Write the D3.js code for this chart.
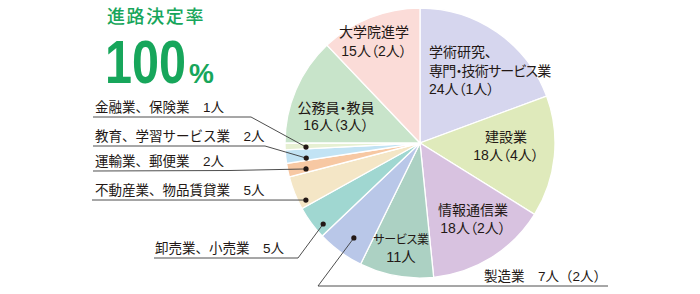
<!DOCTYPE html>
<html><head><meta charset="utf-8">
<script src="https://cdn.jsdelivr.net/npm/d3@7"></script>
<style>
html,body{margin:0;padding:0;background:#fff;}
svg{display:block;font-family:"Liberation Sans","Noto Sans CJK JP",sans-serif;}
.jp{font-feature-settings:"palt";}
</style></head>
<body>
<script>
// data (clockwise from top)
const categories = ["学術研究、専門・技術サービス業","建設業","情報通信業","サービス業","製造業","卸売業、小売業","不動産業、物品賃貸業","運輸業、郵便業","教育、学習サービス業","金融業、保険業","公務員・教員","大学院進学"];
const values = [24,18,18,11,7,5,5,2,2,1,16,15];
const female = [1,4,2,null,2,null,null,null,null,null,3,2];
const colors = ["#d6d6ee","#dfeabb","#d8c2e0","#acd1c3","#b9c7e8","#a0d7d1","#f4e6c6","#f7c8a3","#c2e3f4","#e6f0d2","#c8e4ca","#fbdcd8"];
const title = "進路決定率";
const rateText = "100";

const W=700,H=294, cx=420, cy=143, R=135;
const svg=d3.select("body").append("svg").attr("width",W).attr("height",H);
const green="#17a65b";

svg.append("text").attr("x",107).attr("y",23).attr("fill",green).attr("font-size",18).attr("font-weight",500)
  .attr("letter-spacing",1.6).text(title);

function fitText(str,x,y,size,targetW){
  const t=svg.append("text").attr("fill",green)
    .attr("font-family","'Liberation Sans Narrow','Liberation Sans',sans-serif")
    .attr("font-weight",700).attr("font-size",size).text(str);
  const w=t.node().getBBox().width;
  t.attr("transform",`translate(${x},${y}) scale(${targetW/w},1)`);
}
fitText(rateText,105,83,62,81);
fitText("%",189,83,28,25);

const pie=d3.pie().sort(null).value(d=>d)(values);
const arc=d3.arc().innerRadius(0).outerRadius(R);
const g=svg.append("g").attr("transform",`translate(${cx},${cy})`);
g.selectAll("path").data(pie).join("path").attr("d",arc)
  .attr("fill",(d,i)=>colors[i]).attr("stroke","#fff").attr("stroke-width",1.3);

function countText(i){ return values[i]+"人"+(female[i]!=null?"（"+female[i]+"人）":""); }

// inside labels: [index, lines, x, baselines, anchor, fontsizes, letterspacing]
const inside=[
  [0,["学術研究、","専門・技術サービス業",countText(0)],429,[57,76,94],"start",[14,14,14],[0,-0.8,0]],
  [1,["建設業",countText(1)],506,[142,160],"middle",[14,14],[0,0]],
  [2,["情報通信業",countText(2)],473,[215,233],"middle",[14,14],[0,0]],
  [3,["サービス業",countText(3)],401,[244,262],"middle",[12,14.5],[-0.3,0]],
  [10,["公務員・教員",countText(10)],336,[113,130],"middle",[14,14],[0,0]],
  [11,["大学院進学",countText(11)],374,[37,56],"middle",[14,14],[0,0]]
];
inside.forEach(([i,lines,x,ys,anc,fs,ls])=>{
  lines.forEach((s,k)=>{
    svg.append("text").attr("class","jp").attr("text-anchor",anc).attr("fill","#231815")
      .attr("x",x).attr("y",ys[k]).attr("font-size",fs[k]).attr("letter-spacing",ls[k]).text(s);
  });
});

// outside labels with leaders: [index, textX, baseline, path points before dot, t in slice, radius fraction]
const outside=[
  [9,95,112,[[93,117],[251,117]],0.3,0.845],
  [8,95,141,[[93,146],[265,146]],0.2,0.85],
  [7,95,166,[[93,171],[230,170.5]],0.29,0.866],
  [6,95,195,[[92,200]],0.17,0.945],
  [5,155,253,[[154,258],[298,258]],0.25,0.935],
  [4,484,281,[[608,286],[318,286]],0.43,0.857]
];
outside.forEach(([i,tx,ty,pts,t,rf])=>{
  const s=pie[i];
  const a=s.startAngle+t*(s.endAngle-s.startAngle);
  const dx=cx+Math.sin(a)*R*rf, dy=cy-Math.cos(a)*R*rf;
  const line=d3.line();
  svg.append("path").attr("d",line(pts.concat([[dx,dy]]))).attr("fill","none")
    .attr("stroke","#3a3a3a").attr("stroke-width",0.9);
  svg.append("circle").attr("cx",dx).attr("cy",dy).attr("r",2.6).attr("fill","#231815");
  svg.append("text").attr("x",tx).attr("y",ty).attr("font-size",13.5)
    .attr("fill","#231815").text(categories[i]+"　"+countText(i));
});
</script>
</body></html>
